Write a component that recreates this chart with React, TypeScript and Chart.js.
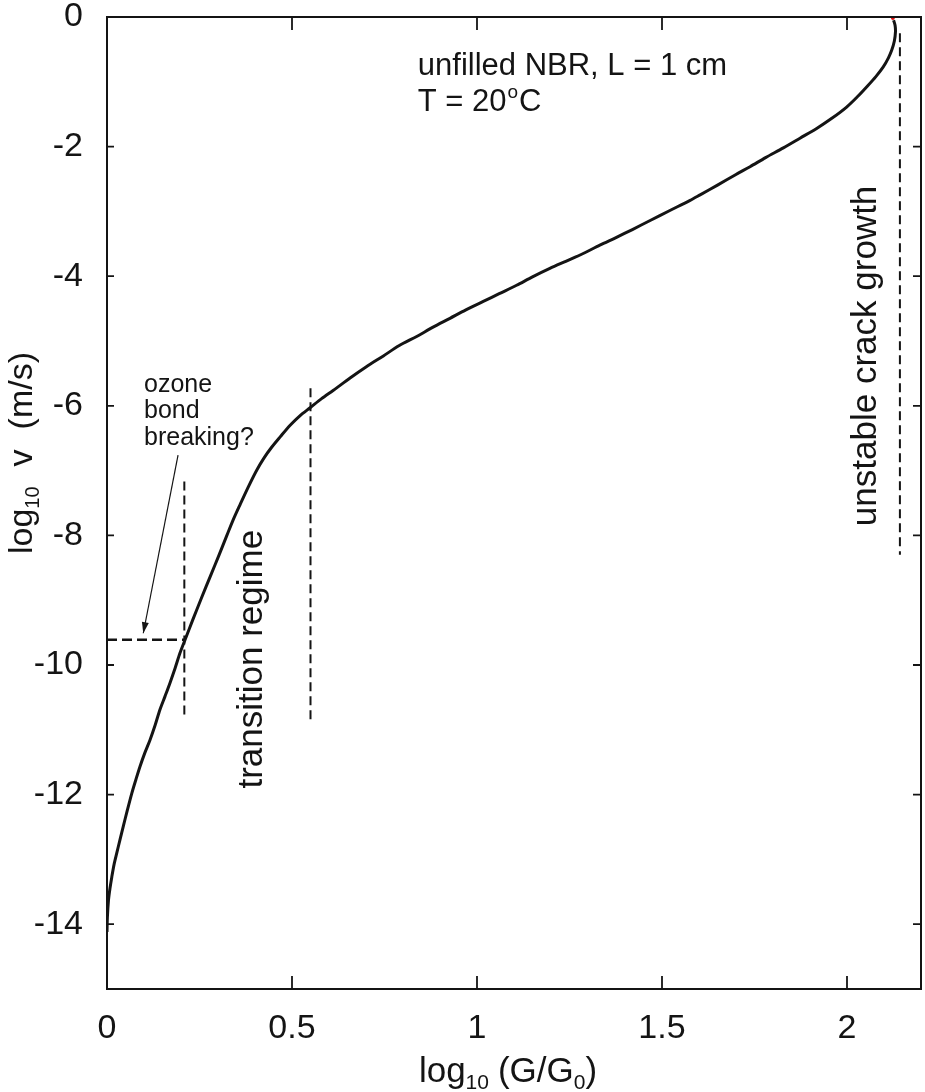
import React, { useEffect, useRef } from 'react';
import { Chart, registerables } from 'chart.js';

Chart.register(...registerables);

const FONT = '"Liberation Sans", Arial, Helvetica, sans-serif';
const INK = '#141414';

// crack-growth curve: log10(G/G0) vs log10 v
const curveX = [
  0.0, 0.001, 0.004, 0.008, 0.013, 0.019, 0.026, 0.035, 0.044, 0.055, 0.067, 0.078, 0.089, 0.102,
  0.116, 0.13, 0.143, 0.157, 0.17, 0.184, 0.197, 0.211, 0.232, 0.255, 0.28, 0.303, 0.324, 0.341,
  0.36, 0.382, 0.405, 0.425, 0.445, 0.468, 0.495, 0.522, 0.549, 0.58, 0.612, 0.657, 0.7, 0.747,
  0.79, 0.837, 0.88, 0.927, 0.97, 1.017, 1.06, 1.107, 1.15, 1.197, 1.24, 1.287, 1.332, 1.377,
  1.42, 1.468, 1.52, 1.576, 1.603, 1.65, 1.7, 1.738, 1.78, 1.828, 1.873, 1.918, 1.96, 1.999,
  2.03, 2.053, 2.078, 2.098, 2.112, 2.121, 2.128, 2.131, 2.13, 2.126,
];
const curveY = [
  -14.12, -13.9, -13.63, -13.45, -13.27, -13.08, -12.91, -12.7, -12.49, -12.24, -11.98, -11.77,
  -11.57, -11.36, -11.16, -10.93, -10.69, -10.48, -10.28, -10.05, -9.82, -9.61, -9.3, -8.97, -8.62,
  -8.3, -8.0, -7.76, -7.52, -7.25, -6.99, -6.8, -6.64, -6.48, -6.3, -6.15, -6.03, -5.89, -5.76,
  -5.57, -5.4, -5.23, -5.07, -4.93, -4.79, -4.65, -4.52, -4.39, -4.27, -4.14, -4.01, -3.88, -3.77,
  -3.65, -3.52, -3.4, -3.28, -3.14, -2.99, -2.83, -2.745, -2.595, -2.43, -2.31, -2.17, -2.02, -1.87,
  -1.72, -1.56, -1.39, -1.22, -1.08, -0.92, -0.77, -0.63, -0.51, -0.37, -0.23, -0.13, -0.05,
];

// last (red) point at the top of the curve
const tipX = [2.124];
const tipY = [-0.02];

// dashed guide lines
const ozoneLevelX = [0, 0.21];
const ozoneLevelY = [-9.61, -9.61];
const ozoneMarkX = [0.209, 0.209];
const ozoneMarkY = [-7.17, -10.8];
const transitionMarkX = [0.55, 0.55];
const transitionMarkY = [-5.73, -10.9];
const unstableMarkX = [2.143, 2.143];
const unstableMarkY = [-0.25, -8.3];

// arrow from the "ozone bond breaking?" note
const arrowX = [0.192, 0.098];
const arrowY = [-6.76, -9.51];

const xTicks = [0, 0.5, 1, 1.5, 2];
const yTicks = [-14, -12, -10, -8, -6, -4, -2, 0];

const pairs = (xs: number[], ys: number[]) => xs.map((x, i) => ({ x, y: ys[i] }));

export default function App() {
  const ref = useRef<HTMLCanvasElement>(null);

  useEffect(() => {
    document.body.style.margin = '0';
    const canvas = ref.current!;

    const dashed = (xs: number[], ys: number[], w: number, dash: number[]) => ({
      data: pairs(xs, ys),
      borderColor: INK,
      borderWidth: w,
      borderDash: dash,
      pointRadius: 0,
      fill: false,
      tension: 0,
    });

    const annot = {
      id: 'annot',
      afterDraw(chart: any) {
        const ctx: CanvasRenderingContext2D = chart.ctx;
        const xs = chart.scales.x;
        const ys = chart.scales.y;
        const a = chart.chartArea;
        const px = (v: number) => xs.getPixelForValue(v);
        const py = (v: number) => ys.getPixelForValue(v);
        ctx.save();
        // frame
        ctx.strokeStyle = INK;
        ctx.lineWidth = 2;
        ctx.setLineDash([]);
        ctx.strokeRect(a.left, a.top, a.right - a.left, a.bottom - a.top);
        // inward ticks
        ctx.lineWidth = 1.8;
        ctx.beginPath();
        xTicks.forEach((v) => {
          const x = px(v);
          ctx.moveTo(x, a.bottom);
          ctx.lineTo(x, a.bottom - 13);
          ctx.moveTo(x, a.top);
          ctx.lineTo(x, a.top + 13);
        });
        yTicks.forEach((v) => {
          const y = py(v);
          ctx.moveTo(a.left, y);
          ctx.lineTo(a.left + 7, y);
          ctx.moveTo(a.right, y);
          ctx.lineTo(a.right - 8, y);
        });
        ctx.stroke();

        // arrow
        const x0 = px(arrowX[0]), y0 = py(arrowY[0]);
        const x1 = px(arrowX[1]), y1 = py(arrowY[1]);
        ctx.lineWidth = 1.2;
        ctx.beginPath();
        ctx.moveTo(x0, y0);
        ctx.lineTo(x1, y1);
        ctx.stroke();
        const ang = Math.atan2(y1 - y0, x1 - x0);
        const hl = 11, hw = 3.5;
        ctx.fillStyle = INK;
        ctx.beginPath();
        ctx.moveTo(x1, y1);
        ctx.lineTo(x1 - hl * Math.cos(ang) + hw * Math.sin(ang), y1 - hl * Math.sin(ang) - hw * Math.cos(ang));
        ctx.lineTo(x1 - hl * Math.cos(ang) - hw * Math.sin(ang), y1 - hl * Math.sin(ang) + hw * Math.cos(ang));
        ctx.closePath();
        ctx.fill();

        const font = (s: number) => `${s}px ${FONT}`;
        ctx.fillStyle = INK;
        ctx.textBaseline = 'alphabetic';
        ctx.textAlign = 'left';

        // top annotation
        ctx.font = font(31);
        const tx = px(0.84);
        ctx.fillText('unfilled NBR, L = 1 cm', tx, py(-0.895));
        let cx = tx;
        const by = py(-1.45);
        ctx.fillText('T = 20', cx, by);
        cx += ctx.measureText('T = 20').width + 1;
        ctx.font = font(19);
        ctx.fillText('o', cx, by - 13);
        cx += ctx.measureText('o').width + 1;
        ctx.font = font(31);
        ctx.fillText('C', cx, by);

        // ozone note
        ctx.font = font(25);
        const ox = px(0.1);
        ctx.fillText('ozone', ox, py(-5.78));
        ctx.fillText('bond', ox, py(-6.19));
        ctx.fillText('breaking?', ox, py(-6.6));

        // rotated annotations
        const rot = (text: string, x: number, y: number, size: number) => {
          ctx.save();
          ctx.translate(x, y);
          ctx.rotate(-Math.PI / 2);
          ctx.font = font(size);
          ctx.textAlign = 'center';
          ctx.textBaseline = 'middle';
          ctx.fillText(text, 0, 0);
          ctx.restore();
        };
        rot('transition regime', px(0.392), py(-9.91), 35);
        rot('unstable crack growth', px(2.051), py(-5.23), 35);

        // axis titles with subscripts
        type Piece = { t: string; s: number; dy: number; gap?: number };
        const drawPieces = (pieces: Piece[]) => {
          let total = 0;
          pieces.forEach((p) => {
            ctx.font = font(p.s);
            total += ctx.measureText(p.t).width + (p.gap || 0);
          });
          let x = -total / 2;
          pieces.forEach((p) => {
            ctx.font = font(p.s);
            ctx.fillText(p.t, x, p.dy);
            x += ctx.measureText(p.t).width + (p.gap || 0);
          });
        };
        ctx.textAlign = 'left';
        ctx.textBaseline = 'alphabetic';
        // y title
        ctx.save();
        ctx.translate(32, 453);
        ctx.rotate(-Math.PI / 2);
        drawPieces([
          { t: 'log', s: 34, dy: 0 },
          { t: '10', s: 20, dy: 7, gap: 20 },
          { t: 'v', s: 34, dy: 0, gap: 20 },
          { t: '(m/s)', s: 34, dy: 0 },
        ]);
        ctx.restore();
        // x title
        ctx.save();
        ctx.translate((a.left + a.right) / 2 - 6, 1082);
        drawPieces([
          { t: 'log', s: 35, dy: 0 },
          { t: '10', s: 21, dy: 7, gap: 9 },
          { t: '(G/G', s: 35, dy: 0 },
          { t: '0', s: 21, dy: 7 },
          { t: ')', s: 35, dy: 0 },
        ]);
        ctx.restore();

        ctx.restore();
      },
    };

    const chart = new Chart(canvas, {
      type: 'line',
      data: {
        datasets: [
          {
            data: pairs(curveX, curveY),
            borderColor: INK,
            borderWidth: 3,
            pointRadius: 0,
            fill: false,
            tension: 0.3,
          },
          dashed(ozoneLevelX, ozoneLevelY, 2.5, [10, 5]),
          dashed(ozoneMarkX, ozoneMarkY, 2, [9, 5]),
          dashed(transitionMarkX, transitionMarkY, 2, [9, 5]),
          dashed(unstableMarkX, unstableMarkY, 2, [9, 5]),
          {
            data: pairs(tipX, tipY),
            showLine: false,
            pointRadius: 1.8,
            pointBorderWidth: 0,
            pointBackgroundColor: '#e01010',
            borderColor: '#e01010',
          },
        ] as any,
      },
      options: {
        animation: false,
        responsive: false,
        devicePixelRatio: 1,
        layout: { padding: { top: 17, right: 4, left: 0, bottom: 0 } },
        plugins: { legend: { display: false }, tooltip: { enabled: false } },
        scales: {
          x: {
            type: 'linear',
            min: 0,
            max: 2.2,
            grid: { display: false, drawTicks: false, tickLength: 0 },
            border: { display: false },
            afterBuildTicks: (s: any) => {
              s.ticks = xTicks.map((v) => ({ value: v }));
            },
            afterFit: (s: any) => {
              s.height = 103;
              s.paddingLeft = 0;
              s.paddingRight = 0;
            },
            ticks: {
              font: { family: FONT, size: 34 },
              color: INK,
              padding: 19,
              maxRotation: 0,
              autoSkip: false,
              callback: (v: any) => String(v),
            },
          },
          y: {
            type: 'linear',
            min: -15,
            max: 0,
            grid: { display: false, drawTicks: false, tickLength: 0 },
            border: { display: false },
            afterBuildTicks: (s: any) => {
              s.ticks = yTicks.map((v) => ({ value: v }));
            },
            afterFit: (s: any) => {
              s.width = 107;
              s.paddingTop = 0;
              s.paddingBottom = 0;
            },
            ticks: {
              font: { family: FONT, size: 34 },
              color: INK,
              padding: 24,
              autoSkip: false,
              callback: (v: any) => String(v),
            },
          },
        },
      } as any,
      plugins: [annot],
    });
    return () => chart.destroy();
  }, []);

  return (
    <div style={{ width: 925, height: 1092 }}>
      <canvas ref={ref} width={925} height={1092} style={{ display: 'block', width: 925, height: 1092 }} />
    </div>
  );
}
